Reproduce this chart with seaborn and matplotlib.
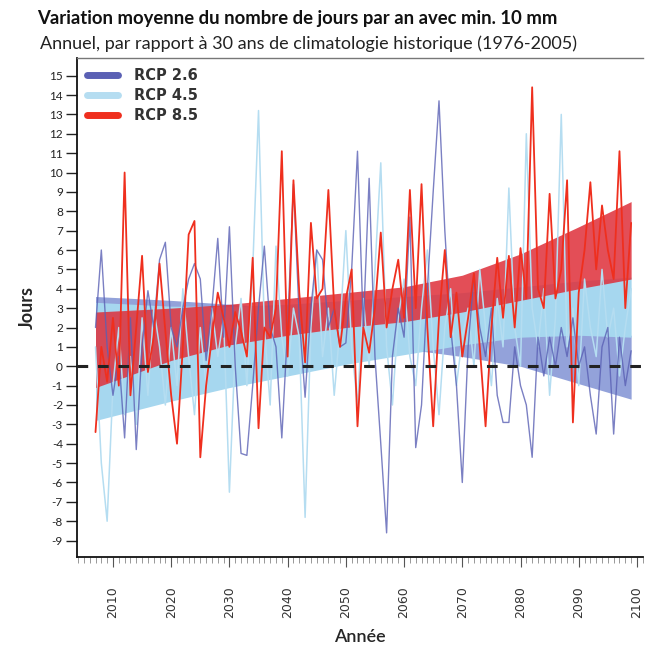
import matplotlib
matplotlib.use("Agg")
import matplotlib.pyplot as plt
from matplotlib.lines import Line2D
from matplotlib.ticker import MultipleLocator
import numpy as np
import pandas as pd
import seaborn as sns

# ---------------- data ----------------
years = list(range(2007, 2100))

rcp26 = [2.0, 6.0, 1.0, -1.5, 0.5, -3.7, 2.5, -4.3, 1.0, 3.9,
         2.0, 5.5, 6.4, 2.0, 1.0, 3.0, 4.5, 5.3, 4.5, 0.3,
         3.0, 6.6, 1.5, 7.2, 0.0, -4.5, -4.6, -1.0, 3.0, 6.2,
         2.0, 1.0, -3.7, 2.0, 9.4, 2.5, -1.6, 3.0, 6.0, 5.5,
         2.0, 3.0, 1.0, 1.2, 5.0, 11.1, 2.0, 9.7, 0.5, -4.0,
         -8.6, 0.5, 3.0, 1.5, 7.7, -4.2, -2.0, 4.0, 9.0, 13.7,
         7.0, 2.0, -1.0, -6.0, 1.0, 4.7, 2.0, 0.5, 3.0, -1.5,
         -2.9, -2.9, 1.0, -1.0, -2.0, -4.7, 1.5, -0.5, 1.5, 0.0,
         2.0, 0.5, 2.5, 0.0, 1.0, -1.5, -3.5, 1.0, 2.0, -3.5,
         1.5, -1.0, 0.8]

rcp45 = [1.0, -5.0, -8.0, -1.0, 2.0, -2.5, 0.5, -3.0, 2.5, -1.5,
         3.0, 1.0, -2.0, 2.0, -1.0, 4.0, 0.5, -2.5, 2.0, -1.0,
         3.0, 0.5, 2.5, -6.5, 1.0, 3.5, -1.0, 5.0, 13.2, 2.0,
         -2.0, 6.2, 1.5, -0.5, 3.0, 1.5, -7.8, 2.0, 6.0, 0.5,
         3.0, -1.5, 2.0, 7.0, 1.0, -2.0, 3.5, 0.0, 5.0, 10.5,
         1.0, -2.0, 2.5, 4.5, 0.5, -1.0, 3.0, 6.0, 1.0, -2.5,
         2.0, 4.0, -1.0, 1.5, 3.0, 0.0, 5.0, 2.0, -1.0, 3.5,
         1.0, 9.2, 2.0, 0.0, 12.0, 3.0, 1.0, 4.0, -1.5, 2.5,
         13.0, 1.0, 3.0, -1.0, 4.5, 2.0, 0.5, 5.0, 1.5, 3.0,
         -0.5, 2.0, 4.0]

rcp85 = [-3.4, 1.0, -0.8, 2.5, -1.0, 10.0, -1.5, 2.0, 5.7, -0.3,
         1.5, 5.3, 1.8, -1.5, -4.0, 1.0, 6.8, 7.5, -4.7, -1.0,
         1.5, 3.8, 2.5, 1.0, 2.8, 1.8, 0.5, 5.6, -3.2, 2.0,
         1.5, 3.0, 11.1, 0.5, 9.6, 3.8, 0.2, 7.4, 3.5, 4.0,
         9.1, 3.0, 1.0, 3.5, 5.0, -3.1, 2.0, 0.7, 3.0, 6.9,
         2.0, 4.0, 5.5, 2.5, 9.1, 3.0, 9.4, 2.0, -3.1, 2.5,
         6.0, 1.5, 3.8, 0.5, 2.5, 4.8, 1.0, -3.1, 2.0, 5.6,
         2.5, 5.7, 2.0, 6.1, 3.5, 14.4, 4.0, 3.0, 8.9, 3.5,
         5.0, 9.6, -2.9, 3.8, 6.0, 9.5, 5.0, 8.3, 6.0, 4.5,
         11.1, 3.0, 7.4]

# envelope anchors
band_years = [2007, 2020, 2030, 2040, 2050, 2060, 2070, 2080, 2090, 2099]
band26_low = [-0.5, 0.0, 0.4, 0.7, 0.9, 0.9, 0.5, 0.0, -0.9, -1.7]
band26_high = [3.6, 3.4, 3.2, 3.0, 2.8, 2.6, 2.3, 2.0, 1.8, 1.6]
band45_low = [-2.8, -1.8, -1.1, -0.5, 0.1, 0.6, 1.1, 1.5, 1.6, 1.5]
band45_high = [3.3, 3.1, 3.1, 3.2, 3.4, 3.6, 3.8, 4.1, 4.4, 4.6]
band85_low = [-1.1, 0.3, 1.1, 1.6, 2.0, 2.3, 2.8, 3.4, 4.0, 4.5]
band85_high = [2.8, 3.0, 3.2, 3.5, 3.8, 4.1, 4.7, 5.8, 7.2, 8.5]

scenarios = ["RCP 2.6", "RCP 4.5", "RCP 8.5"]
y_ticks = list(range(-9, 16))
x_ticks = list(range(2010, 2101, 10))

title = "Variation moyenne du nombre de jours par an avec min. 10 mm"
subtitle = "Annuel, par rapport à 30 ans de climatologie historique (1976-2005)"

# ---------------- styling ----------------
sns.set_theme(style="ticks")
plt.rcParams["font.family"] = ["Lato", "DejaVu Sans"]

col26 = "#5a60b4"
col45 = "#b5ddf1"
col85 = "#ef2f1e"

fig = plt.figure(figsize=(6.46, 6.47), dpi=100)
ax = fig.add_axes([0.119, 0.139, 0.876, 0.771])

df = pd.DataFrame({"year": years * 3,
                   "value": rcp26 + rcp45 + rcp85,
                   "scenario": ["RCP 2.6"] * len(years) + ["RCP 4.5"] * len(years) + ["RCP 8.5"] * len(years)})
bands = pd.DataFrame({"year": band_years,
                      "l26": band26_low, "h26": band26_high,
                      "l45": band45_low, "h45": band45_high,
                      "l85": band85_low, "h85": band85_high})

# envelopes
ax.fill_between(bands["year"], bands["l26"], bands["h26"], color="#8798d6", alpha=0.9, lw=0, zorder=1)
ax.fill_between(bands["year"], bands["l45"], bands["h45"], color="#a6d7ef", alpha=1.0, lw=0, zorder=1.1)
ax.fill_between(bands["year"], bands["l85"], bands["h85"], color="#de2f3a", alpha=0.85, lw=0, zorder=1.2)

# lines
sns.lineplot(data=df[df.scenario == "RCP 4.5"], x="year", y="value", color=col45,
             lw=1.1, ax=ax, zorder=2, legend=False)
sns.lineplot(data=df[df.scenario == "RCP 2.6"], x="year", y="value", color=col26,
             lw=1.0, alpha=0.8, ax=ax, zorder=2.1, legend=False)
sns.lineplot(data=df[df.scenario == "RCP 8.5"], x="year", y="value", color=col85,
             lw=1.3, ax=ax, zorder=3, legend=False)

ax.axhline(0, color="#222222", lw=2.2, ls=(0, (3.5, 3.2)), zorder=4)

ax.set_xlim(2003.8, 2101.0)
ax.set_ylim(-9.85, 15.9)
ax.set_yticks(y_ticks)
ax.set_yticklabels([str(v) for v in y_ticks], fontsize=8.5, color="#222222")
ax.set_xticks(x_ticks)
ax.set_xticklabels([str(v) for v in x_ticks], rotation=90, fontsize=9, color="#333333",
                   family=["DejaVu Sans"])
ax.xaxis.set_minor_locator(MultipleLocator(1))
ax.tick_params(axis="x", which="major", length=7, width=0.8, pad=14, color="#555555")
ax.tick_params(axis="x", which="minor", length=4, width=0.6, color="#888888")
ax.tick_params(axis="y", which="major", length=8, width=1.0, pad=2, color="#222222")

for s in ["left", "bottom"]:
    ax.spines[s].set_color("#111111")
    ax.spines[s].set_linewidth(1.3)
ax.spines["top"].set_color("#777777")
ax.spines["top"].set_linewidth(1.0)
ax.spines["right"].set_visible(False)

ax.set_xlabel("Année", fontsize=13, fontweight="semibold", labelpad=8)
ax.set_ylabel("Jours", fontsize=13, fontweight="bold", labelpad=10)

handles = [Line2D([0], [0], color=c, lw=5, solid_capstyle="round") for c in (col26, col45, col85)]
leg = ax.legend(handles, scenarios, loc="upper left", bbox_to_anchor=(0.0, 1.0), frameon=False,
                fontsize=10.5, handlelength=2.1, handletextpad=1.1, labelspacing=0.32,
                borderaxespad=0.3)
for t in leg.get_texts():
    t.set_fontweight("bold")
    t.set_color("#333333")
    t.set_family(["DejaVu Sans"])

fig.text(0.058, 0.972, title, fontsize=13.3, fontweight="bold", ha="left", va="center", color="#111111")
fig.text(0.062, 0.932, subtitle, fontsize=13, ha="left", va="center", color="#222222")

fig.savefig("out.png", dpi=100)
